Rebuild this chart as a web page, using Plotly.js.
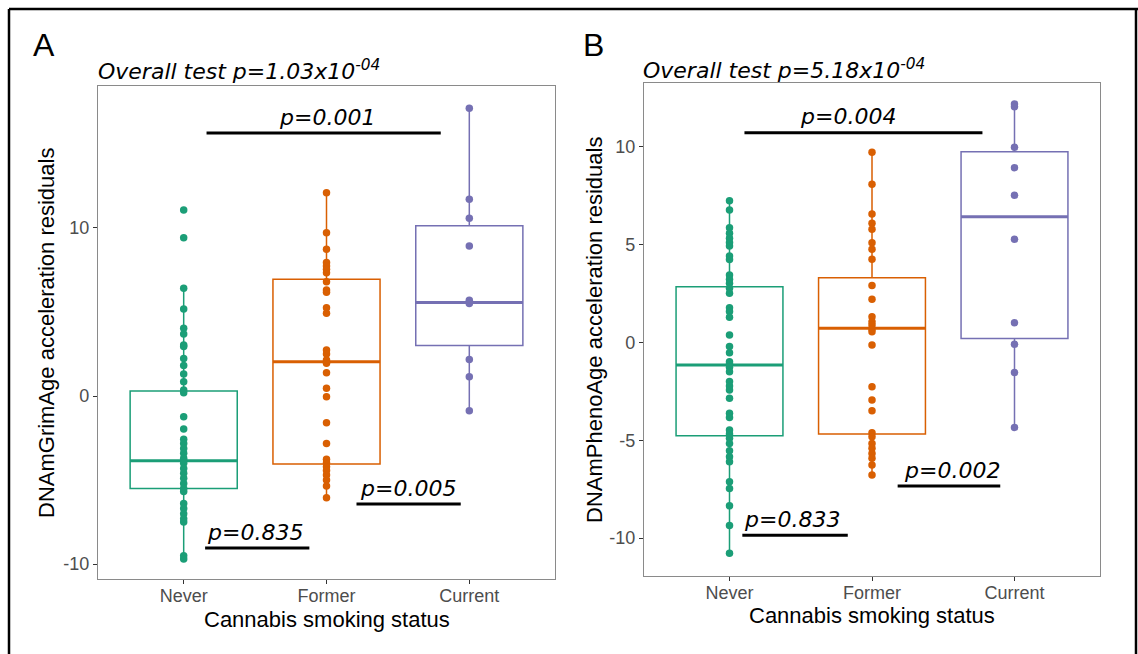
<!DOCTYPE html>
<html><head><meta charset="utf-8">
<script src="https://cdn.plot.ly/plotly-3.0.1.min.js"></script>
<style>html,body{margin:0;padding:0;background:#fff;}#chart{width:1138px;height:654px;}</style>
</head><body><div id="chart"></div>
<script>
const categories = ["Never", "Former", "Current"];
const colors = ["#1B9E77", "#D95F02", "#7570B3"];

// Panel A: DNAmGrimAge acceleration residuals
const grimNever = [11.07, 9.42, 6.41, 5.18, 4.03, 3.69, 3.04, 2.94, 2.24, 1.81, 1.31, 0.85, 0.36, 0.2,
  -1.23, -1.96, -2.58, -2.82, -3.12, -3.41, -3.7, -3.85, -4.0, -4.31, -4.6, -4.9, -5.2, -5.5, -5.69,
  -6.4, -6.7, -7.0, -7.3, -7.5, -9.5, -9.7];
const grimFormer = [12.1, 9.72, 8.73, 7.94, 7.74, 7.54, 7.34, 6.8, 6.31, 6.17, 5.26, 4.92, 2.74, 2.5,
  2.14, 1.95, 1.39, 0.46, -0.04, -1.59, -2.82, -3.77, -3.97, -4.21, -4.44, -4.7, -5.0, -5.36, -6.05];
const grimCurrent = [17.12, 11.71, 10.58, 8.93, 5.7, 5.5, 2.18, 1.15, -0.87];
const grimQ1 = [-5.5, -4.05, 3.0];
const grimMedian = [-3.85, 2.04, 5.56];
const grimQ3 = [0.3, 6.95, 10.14];

// Panel B: DNAmPhenoAge acceleration residuals
const phenoNever = [7.25, 6.78, 5.87, 5.59, 5.33, 5.11, 4.94, 4.42, 4.25, 3.45, 3.23, 3.03, 2.77, 2.52,
  1.78, 1.58, 1.29, 0.38, -0.21, -0.52, -0.98, -1.1, -1.27, -1.49, -2.0, -2.22, -2.43, -2.85, -3.62,
  -3.83, -4.48, -4.68, -4.9, -5.16, -5.53, -5.84, -6.1, -7.12, -7.46, -8.35, -9.36, -10.78];
const phenoFormer = [9.73, 8.09, 6.57, 6.1, 5.79, 5.1, 4.77, 4.26, 2.91, 2.21, 1.32, 1.06, 0.9, 0.69,
  0.55, -0.13, -2.26, -2.94, -3.49, -4.61, -4.82, -5.16, -5.41, -5.67, -5.92, -6.27, -6.78];
const phenoCurrent = [12.2, 12.05, 9.98, 8.94, 7.53, 5.28, 1.01, -0.09, -1.54, -4.34];
const phenoQ1 = [-4.77, -4.68, 0.21];
const phenoMedian = [-1.15, 0.73, 6.43];
const phenoQ3 = [2.85, 3.31, 9.76];

const yTicksA = [-10, 0, 10];
const yTicksB = [-10, -5, 0, 5, 10];

const overallA = "Overall test p=1.03x10<sup>-04</sup>";
const overallB = "Overall test p=5.18x10<sup>-04</sup>";
const yTitleA = "DNAmGrimAge acceleration residuals";
const yTitleB = "DNAmPhenoAge acceleration residuals";
const xTitle = "Cannabis smoking status";

// pairwise comparisons: label, bar start, bar end (category units), bar level, label centre
const pairLabelsA = ["p=0.001", "p=0.835", "p=0.005"];
const pairStartA = [1.16, 1.15, 2.21];
const pairEndA = [2.80, 1.88, 2.94];
const pairLevelA = [15.65, -9.05, -6.43];
const pairTextXA = [2.0, 1.5, 2.57];
const pairLabelsB = ["p=0.004", "p=0.833", "p=0.002"];
const pairStartB = [1.105, 1.09, 2.18];
const pairEndB = [2.775, 1.83, 2.90];
const pairLevelB = [10.72, -9.85, -7.34];
const pairTextXB = [1.83, 1.44, 2.56];

const W = 1138, H = 654;
const px = v => v / W, py = v => 1 - v / H;
const BOXW = 0.75;

function whiskers(vals, q1, q3) {
  const iqr = q3 - q1, lo = q1 - 1.5 * iqr, hi = q3 + 1.5 * iqr;
  const inside = vals.filter(v => v >= lo && v <= hi);
  return [Math.min(...inside), Math.max(...inside)];
}

const traces = [];
const annotations = [];
const shapes = [];

function panel(groups, q1, med, q3, xa, ya) {
  groups.forEach((vals, i) => {
    const pos = i + 1;
    const [lf, uf] = whiskers(vals, q1[i], q3[i]);
    traces.push({
      type: 'box', x: [pos], q1: [q1[i]], median: [med[i]], q3: [q3[i]],
      lowerfence: [lf], upperfence: [uf], width: BOXW, boxpoints: false,
      whiskerwidth: 0, fillcolor: '#ffffff', line: {color: colors[i], width: 1.5},
      xaxis: xa, yaxis: ya, showlegend: false, hoverinfo: 'skip', name: categories[i]
    });
  });
  groups.forEach((vals, i) => {
    const pos = i + 1;
    traces.push({
      type: 'scatter', mode: 'lines', x: [pos - BOXW / 2, pos + BOXW / 2], y: [med[i], med[i]],
      line: {color: colors[i], width: 3}, xaxis: xa, yaxis: ya, showlegend: false, hoverinfo: 'skip'
    });
    traces.push({
      type: 'scatter', mode: 'markers', x: vals.map(() => pos), y: vals,
      marker: {color: colors[i], size: 7.5}, xaxis: xa, yaxis: ya, showlegend: false, name: categories[i]
    });
  });
}

panel([grimNever, grimFormer, grimCurrent], grimQ1, grimMedian, grimQ3, 'x', 'y');
panel([phenoNever, phenoFormer, phenoCurrent], phenoQ1, phenoMedian, phenoQ3, 'x2', 'y2');

function pairs(labels, s, e, lvl, tx, xr, yr) {
  labels.forEach((lab, i) => {
    shapes.push({type: 'line', xref: xr, yref: yr, x0: s[i], x1: e[i], y0: lvl[i], y1: lvl[i],
      line: {color: '#000', width: 3}});
    annotations.push({xref: xr, yref: yr, x: tx[i], y: lvl[i], text: '<i>' + lab + '</i>',
      showarrow: false, xanchor: 'center', yanchor: 'middle', yshift: 16,
      font: {family: 'DejaVu Sans', size: 22, color: '#000'}});
  });
}
pairs(pairLabelsA, pairStartA, pairEndA, pairLevelA, pairTextXA, 'x', 'y');
pairs(pairLabelsB, pairStartB, pairEndB, pairLevelB, pairTextXB, 'x2', 'y2');

function paperText(x, y, text, font, extra) {
  return Object.assign({xref: 'paper', yref: 'paper', x: px(x), y: py(y), text: text, showarrow: false,
    xanchor: 'center', yanchor: 'middle', font: font}, extra || {});
}
const letterFont = {family: 'Liberation Sans', size: 32, color: '#000'};
const overallFont = {family: 'DejaVu Sans', size: 22, color: '#000'};
const titleFont = {family: 'Liberation Sans', size: 22, color: '#000'};

annotations.push(
  paperText(44, 45, 'A', letterFont),
  paperText(593, 45, 'B', letterFont),
  paperText(96, 70, '<i>' + overallA + '</i>', overallFont, {xanchor: 'left'}),
  paperText(641, 69, '<i>' + overallB + '</i>', overallFont, {xanchor: 'left'}),
  paperText(47, 333, yTitleA, titleFont, {textangle: -90}),
  paperText(594, 330, yTitleB, titleFont, {textangle: -90}),
  paperText(327, 619, xTitle, titleFont),
  paperText(872, 615, xTitle, titleFont)
);

// outer frame
shapes.push(
  {type: 'line', xref: 'paper', yref: 'paper', x0: px(9), x1: px(1138), y0: py(9), y1: py(9), line: {color: '#000', width: 2.5}},
  {type: 'line', xref: 'paper', yref: 'paper', x0: px(9), x1: px(9), y0: py(9), y1: py(654), line: {color: '#000', width: 2.5}},
  {type: 'line', xref: 'paper', yref: 'paper', x0: px(1136), x1: px(1136), y0: py(9), y1: py(654), line: {color: '#000', width: 2.5}}
);

const tickFont = {family: 'Liberation Sans', size: 18, color: '#4D4D4D'};
const xBase = {
  range: [0.4, 3.6], tickvals: [1, 2, 3], ticktext: categories, showgrid: false, zeroline: false,
  showline: true, mirror: true, linecolor: '#8a8a8a', linewidth: 1.2, ticks: 'outside', ticklen: 4,
  tickcolor: '#333', tickfont: tickFont, fixedrange: true, ticklabelstandoff: -4
};
const yBase = {
  showgrid: false, zeroline: false, showline: true, mirror: true, linecolor: '#8a8a8a', linewidth: 1.2,
  ticks: 'outside', ticklen: 4, tickcolor: '#333', tickfont: tickFont, fixedrange: true
};

const layout = {
  width: W, height: H, margin: {l: 0, r: 0, t: 0, b: 0},
  paper_bgcolor: '#fff', plot_bgcolor: '#fff', showlegend: false, boxmode: 'overlay',
  xaxis: Object.assign({}, xBase, {domain: [px(98), px(555)], anchor: 'y'}),
  yaxis: Object.assign({}, yBase, {domain: [py(579), py(86)], range: [-10.89, 18.45],
    tickvals: yTicksA, ticktext: yTicksA.map(String), anchor: 'x'}),
  xaxis2: Object.assign({}, xBase, {domain: [px(644), px(1100)], anchor: 'y2'}),
  yaxis2: Object.assign({}, yBase, {domain: [py(576), py(83)], range: [-11.94, 13.27],
    tickvals: yTicksB, ticktext: yTicksB.map(String), anchor: 'x2'}),
  annotations: annotations, shapes: shapes
};

Plotly.newPlot('chart', traces, layout, {displayModeBar: false, staticPlot: true});
</script>
</body></html>
